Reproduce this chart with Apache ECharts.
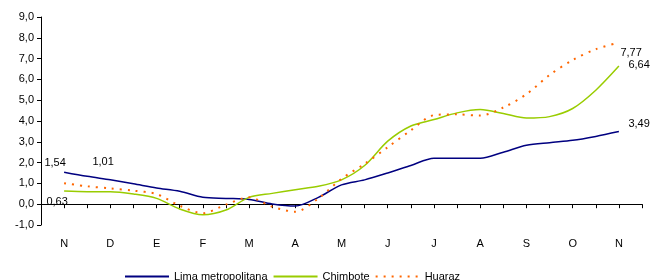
<!DOCTYPE html>
<html>
<head>
<meta charset="utf-8">
<script src="https://cdn.jsdelivr.net/npm/echarts@6/dist/echarts.min.js"></script>
<style>
  html, body { margin: 0; padding: 0; background: #fff; }
  #chart { width: 653px; height: 280px; }
</style>
</head>
<body>
<div id="chart"></div>
<script>
// month labels, one per month; the data is semi-monthly (two points per month)
const months = ['N', 'D', 'E', 'F', 'M', 'A', 'M', 'J', 'J', 'A', 'S', 'O', 'N']

const lima = [1.54, 1.34, 1.17, 0.98, 0.78, 0.62, 0.33, 0.28, 0.23, 0.01, -0.09, 0.33, 0.93,
  1.17, 1.5, 1.86, 2.21, 2.21, 2.21, 2.5, 2.83, 2.96, 3.07, 3.26, 3.49]
const chimbote = [0.63, 0.6, 0.6, 0.49, 0.28, -0.23, -0.51, -0.28, 0.33, 0.52, 0.7, 0.86, 1.17,
  1.86, 3.03, 3.76, 4.07, 4.39, 4.55, 4.36, 4.14, 4.21, 4.6, 5.48, 6.64]
const huaraz = [1.01, 0.86, 0.76, 0.65, 0.49, -0.07, -0.43, -0.02, 0.33, -0.12, -0.36, 0.28, 1.22,
  1.94, 2.74, 3.55, 4.28, 4.32, 4.26, 4.65, 5.29, 6.21, 6.93, 7.45, 7.77]

// axis has an empty slot before and after the data, labels on every other slot
const categories = ['']
months.forEach((m, i) => {
  categories.push(m)
  if (i < months.length - 1) categories.push('')
})
categories.push('')

const fmt = v => v.toFixed(2).replace('.', ',')

// only the first and last point carry a value label
function buildData(values, firstOffset, lastOffset) {
  const data = values.map((v, i) => {
    if (i === 0 || i === values.length - 1) {
      const first = i === 0
      return {
        value: v,
        label: {
          show: true,
          position: first ? 'top' : 'right',
          distance: 0,
          offset: first ? firstOffset : lastOffset,
          formatter: fmt(v)
        }
      }
    }
    return v
  })
  return [null, ...data, null]
}

const chart = echarts.init(document.getElementById('chart'))

const font = 'Liberation Sans, Arial, sans-serif'
const labelStyle = { show: false, color: '#000', fontSize: 11, fontFamily: font }

function lineSeries(name, values, color, lineStyle, firstOffset, lastOffset) {
  return {
    name,
    type: 'line',
    data: buildData(values, firstOffset, lastOffset),
    smooth: 0.3,
    symbol: 'circle',
    symbolSize: 1,
    showSymbol: true,
    showAllSymbol: true,
    color,
    itemStyle: { color: 'rgba(0,0,0,0)', borderWidth: 0 },
    lineStyle: Object.assign({ color }, lineStyle),
    label: labelStyle,
    emphasis: { disabled: true }
  }
}

chart.setOption({
  animation: false,
  textStyle: { fontFamily: font },
  grid: { left: 41, right: 11, top: 17, bottom: 55, containLabel: false },
  legend: {
    left: 119,
    top: 266,
    itemWidth: 44,
    itemHeight: 12,
    itemGap: 5,
    itemStyle: { opacity: 0 },
    textStyle: { color: '#000', fontSize: 11, fontFamily: font },
    data: ['Lima metropolitana', 'Chimbote', 'Huaraz']
  },
  xAxis: {
    type: 'category',
    data: categories,
    boundaryGap: false,
    axisLine: { onZero: true, lineStyle: { color: '#000', width: 1 } },
    axisTick: { interval: 0, length: 4, lineStyle: { color: '#000' } },
    axisLabel: { interval: 0, margin: 13, color: '#000', fontSize: 11, fontFamily: font }
  },
  yAxis: {
    type: 'value',
    min: -1,
    max: 9,
    interval: 1,
    axisLine: { show: true, lineStyle: { color: '#000', width: 1 } },
    axisTick: { show: true, length: 4, lineStyle: { color: '#000' } },
    axisLabel: {
      margin: 7,
      color: '#000',
      fontSize: 11,
      fontFamily: font,
      formatter: v => v.toFixed(1).replace('.', ',')
    },
    splitLine: { show: false }
  },
  series: [
    lineSeries('Lima metropolitana', lima, '#000080', { width: 1.5 }, [-9, -3], [9, -8]),
    lineSeries('Chimbote', chimbote, '#99cc00', { width: 1.5 }, [-7, 17], [9, -1]),
    lineSeries('Huaraz', huaraz, '#ff6600', { width: 2, type: [2, 6] }, [39, -15], [1, 10])
  ]
})
</script>
</body>
</html>
